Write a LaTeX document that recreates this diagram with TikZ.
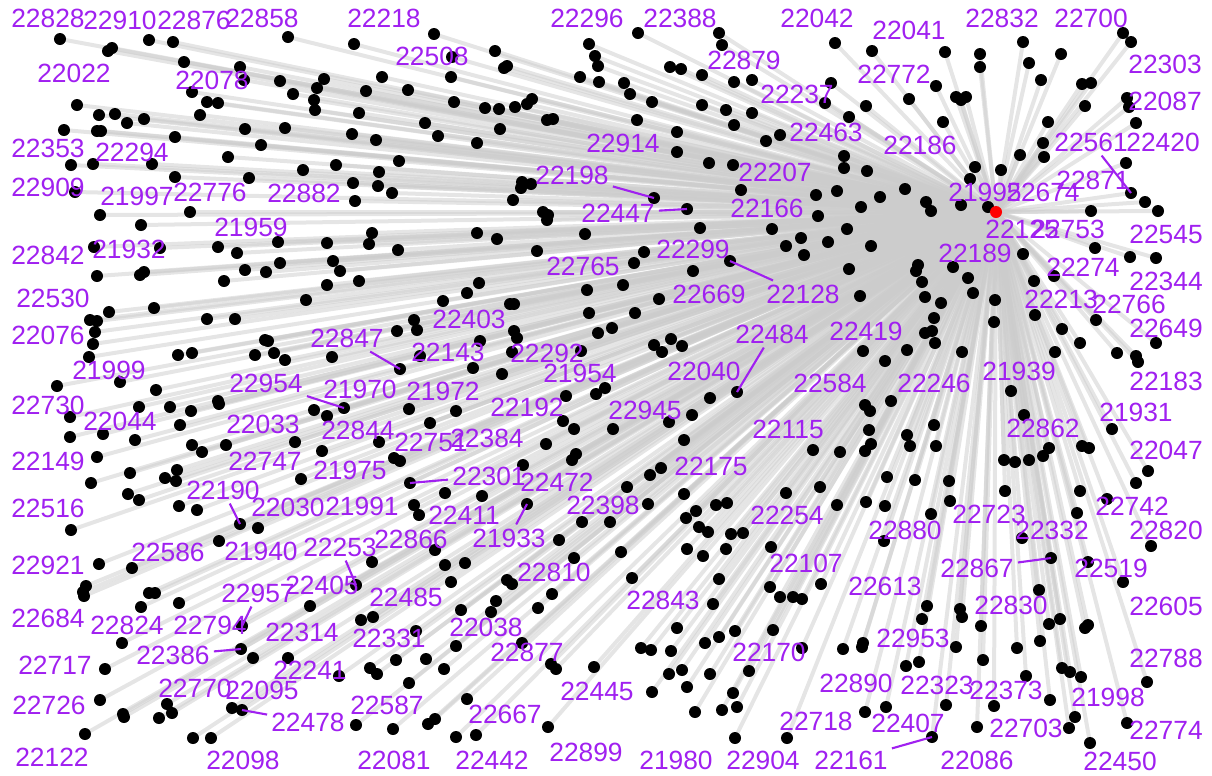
\documentclass[tikz,border=0pt]{standalone}
\usepackage{fontspec}
\setmainfont{Liberation Sans}
\usepackage{xcolor}
\definecolor{idpurple}{RGB}{160,32,240}

\begin{document}
\begin{tikzpicture}[x=0.01cm, y=-0.01cm, font=\fontsize{7.5}{9}\selectfont,
  nodedot/.style={circle, fill=black, inner sep=0pt, minimum size=0.12cm},
  hubdot/.style={circle, fill=red, inner sep=0pt, minimum size=0.12cm},
  spoke/.style={line width=0.04cm, gray!40, opacity=0.5},
  idlabel/.style={text=idpurple, inner sep=1pt},
  leader/.style={idpurple, line width=0.6pt}]
\useasboundingbox (0,0) rectangle (1212,775);
\coordinate (hub) at (996,212);
\def\pts{
  60/39, 108/51, 112/48, 149/40, 173/42, 184/62, 240/67, 244/80, 280/81, 324/79, 317/88, 293/94, 314/100, 315/110,
  192/92, 207/102, 218/103, 200/115, 288/37, 354/44, 382/77, 366/91, 359/113, 352/134, 376/140, 399/161, 379/172,
  378/186, 392/193, 353/183, 355/201, 336/165, 303/170, 249/178, 228/157, 261/145, 285/128, 245/129, 175/137,
  152/164, 175/177, 144/119, 127/123, 115/114, 99/115, 77/105, 64/130, 97/131, 101/131, 71/165, 93/164, 75/192,
  100/215, 141/225, 190/212, 372/233, 369/244, 327/243, 398/250, 278/242, 218/247, 237/253, 94/247, 160/248,
  434/34, 452/57, 495/51, 504/68, 507/66, 451/77, 408/90, 454/102, 485/108, 499/109, 515/107, 527/104, 532/99,
  547/120, 553/119, 500/129, 477/143, 438/136, 425/123, 589/44, 595/56, 598/66, 580/77, 599/82, 624/83, 630/94,
  652/102, 637/120, 638/33, 719/33, 722/45, 670/67, 681/69, 702/75, 734/82, 752/80, 702/105, 726/110, 734/125,
  752/113, 766/141, 780/135, 677/132, 677/152, 709/163, 733/165, 741/190, 654/198, 687/209, 700/228, 772/229,
  801/238, 786/246, 804/255, 522/182, 531/184, 521/188, 513/200, 543/212, 548/215, 547/220, 477/233, 497/239,
  585/234, 644/252, 537/251,
  835/43, 872/51, 945/52, 980/54, 980/67, 1023/42, 1029/63, 1061/54, 1041/80, 1123/33, 1131/42, 1082/84, 1091/83,
  1085/106, 1127/98, 1129/107, 1136/123, 1048/122, 1043/143, 1044/157, 1020/155, 1126/163, 1131/193, 1145/202,
  1158/211, 1091/211, 1001/170, 975/167, 970/179, 988/207, 961/205, 936/86, 909/99, 956/97, 961/100, 966/97,
  943/122, 866/106, 849/117, 831/83, 825/103, 844/156, 844/168, 867/171, 905/189, 880/197, 837/191, 816/195,
  861/207, 926/202, 931/211, 818/216, 847/229, 828/242, 871/246, 1023/254, 1095/248, 1130/257, 1156/258,
  97/276, 140/275, 144/272, 245/270, 266/272, 280/263, 224/281, 333/261, 340/271, 327/285, 359/281, 306/300,
  109/312, 154/308, 90/320, 97/321, 95/332, 93/344, 89/357, 207/319, 235/319, 397/331, 265/340, 268/341, 255/355,
  274/353, 285/360, 332/357, 400/369, 178/355, 192/353, 120/382, 57/386, 156/390, 139/407, 170/407, 191/411,
  218/401, 219/404, 344/408, 314/410, 327/416, 70/417, 70/437, 103/434, 135/440, 180/425, 192/445, 202/452,
  226/445, 295/442, 322/451, 379/442, 394/458, 400/461, 97/457, 130/473, 177/470, 165/478, 176/481, 91/483,
  301/479, 128/494, 139/500, 179/506, 197/510,
  634/263, 730/261, 693/271, 479/283, 467/293, 443/301, 510/304, 514/304, 587/290, 623/285, 659/299, 414/320,
  417/330, 589/313, 635/313, 598/333, 612/328, 514/331, 517/338, 480/341, 512/352, 581/351, 420/356, 473/368,
  502/374, 654/345, 671/339, 662/352, 682/346, 596/394, 605/388, 566/396, 737/392, 710/398, 409/409, 456/411,
  430/423, 563/421, 574/429, 613/429, 669/422, 692/415, 684/440, 546/444, 572/460, 576/454, 523/465, 661/468,
  650/475, 410/483, 445/493, 482/496, 527/504, 414/505, 419/515, 627/487, 684/494, 648/504, 716/505, 727/503,
  696/511, 786/493,
  849/269, 918/265, 916/271, 922/282, 953/267, 968/278, 973/293, 995/300, 994/322, 860/296, 925/297, 941/303,
  934/318, 925/333, 932/331, 935/343, 962/352, 863/351, 885/361, 907/350, 1034/281, 1054/276, 1035/315, 1062/329,
  1096/320, 1080/343, 1055/352, 1117/353, 1136/356, 1138/362, 1156/343, 1011/391, 1024/415, 1112/429, 891/401,
  865/405, 870/411, 869/430, 934/425, 907/435, 910/446, 936/446, 871/444, 865/451, 813/450, 840/452, 1004/460,
  1015/462, 1029/460, 1043/456, 1049/448, 1082/446, 1089/448, 1148/471, 1136/483, 820/487, 887/477, 915/480,
  949/481, 1005/491, 1080/491, 1107/499, 837/505, 866/502, 885/506, 950/501, 931/514, 1077/513,
  71/530, 240/524, 258/528, 219/541, 99/564, 132/568, 86/586, 83/592, 84/596, 149/593, 155/593, 179/603, 141/607,
  372/562, 356/585, 310/606, 361/620, 373/617, 242/626, 122/643, 241/649, 253/658, 288/658, 105/669, 396/660,
  370/668, 377/674, 339/676, 100/700, 123/714, 124/717, 167/704, 172/713, 159/718, 232/708, 242/710, 85/734,
  193/738, 211/738, 356/725, 393/729,
  582/522, 610/522, 686/518, 699/527, 708/532, 731/534, 743/533, 559/540, 435/550, 445/565, 465/563, 451/582,
  574/558, 621/552, 687/549, 703/556, 726/549, 771/547, 632/578, 719/579, 507/580, 512/584, 552/594, 496/601,
  461/610, 491/612, 538/608, 713/604, 770/587, 780/597, 793/597, 802/599, 416/631, 456/646, 522/643, 677/628,
  735/631, 773/630, 719/637, 705/643, 641/648, 651/650, 671/651, 802/648, 426/659, 444/669, 551/664, 556/669,
  594/667, 669/674, 682/670, 710/674, 749/671, 409/683, 652/692, 687/687, 733/693, 467/699, 428/724, 435/719,
  456/737, 476/735, 548/727, 695/712, 722/710, 737/707, 735/738, 787/738,
  884/541, 1022/538, 1051/558, 1088/562, 1123/582, 1151/546, 821/584, 927/606, 922/619, 960/609, 962/617,
  981/626, 1039/590, 1060/619, 1049/624, 1088/625, 1085/628, 843/649, 863/643, 862/647, 956/647, 1017/648,
  1040/641, 906/666, 919/662, 983/660, 1062/668, 1070/672, 1081/677, 1026/676, 1147/682, 1050/700, 994/706,
  946/705, 886/707, 865/712, 1075/717, 1069/728, 977/727, 932/737, 1127/723, 1090/743}
% spokes first, then the points on top
\foreach \x/\y [count=\i] in \pts {
  \coordinate (c\i) at (\x,\y);
  \draw[spoke] (hub) -- (c\i);
}
\foreach \x/\y [count=\i] in \pts {
  \node[nodedot] (d\i) at (c\i) {};
}
\node[hubdot] (h) at (hub) {};
% ids
\foreach \x/\y/\t in {
  48/18/22828, 120/20/22910, 194/20/22876, 262/18/22858, 384/18/22218, 587/18/22296, 680/18/22388, 817/18/22042,
  909/30/22041, 1002/18/22832, 1091/18/22700, 74/73/22022, 212/80/22078, 432/56/22508, 744/60/22879, 894/74/22772,
  1165/64/22303, 797/94/22237, 1165/101/22087, 826/132/22463, 623/143/22914, 920/145/22186, 48/148/22353,
  132/152/22294, 1091/142/22561, 1163/142/22420, 775/172/22207, 572/175/22198, 48/187/22909, 137/196/21997,
  210/192/22776, 304/193/22882, 985/192/21995, 1043/192/22674, 1093/180/22871, 618/213/22447, 767/208/22166,
  251/227/21959, 48/255/22842, 129/249/21932, 1022/229/22125, 1068/229/22753, 1166/234/22545, 975/253/22189,
  583/266/22765, 693/249/22299, 803/294/22128, 709/294/22669, 1083/267/22274, 1166/281/22344, 53/298/22530,
  1061/299/22213, 1129/304/22766, 469/319/22403, 48/335/22076, 347/338/22847, 866/331/22419, 1166/328/22649,
  448/352/22143, 547/353/22292, 772/334/22484, 580/373/21954, 704/371/22040, 109/370/21999, 266/383/22954,
  360/389/21970, 443/391/21972, 830/383/22584, 934/383/22246, 1019/371/21939, 1166/381/22183, 48/405/22730,
  120/421/22044, 527/407/22192, 645/410/22945, 1136/412/21931, 263/424/22033, 358/430/22844, 431/442/22751,
  487/438/22384, 788/429/22115, 1043/428/22862, 48/461/22149, 265/461/22747, 350/470/21975, 711/466/22175,
  1166/450/22047, 489/476/22301, 557/482/22472, 223/490/22190, 48/508/22516, 288/507/22030, 362/506/21991,
  464/515/22411, 603/505/22398, 1132/506/22742, 787/515/22254, 989/514/22723, 905/530/22880, 1052/530/22332,
  1166/530/22820, 509/538/21933, 411/539/22866, 261/551/21940, 340/547/22253, 168/552/22586, 48/565/22921,
  806/563/22107, 554/572/22810, 977/568/22867, 1111/568/22519, 885/586/22613, 322/585/22405, 258/593/22957,
  406/597/22485, 663/600/22843, 1011/605/22830, 1166/606/22605, 48/618/22684, 127/625/22824, 210/625/22794,
  302/632/22314, 486/627/22038, 389/638/22331, 913/638/22953, 173/655/22386, 527/652/22877, 769/652/22170,
  1166/658/22788, 55/665/22717, 310/670/22241, 856/683/22890, 937/685/22323, 1006/690/22373, 1108/697/21998,
  195/688/22770, 262/690/22095, 597/691/22445, 49/705/22726, 308/722/22478, 387/705/22587, 505/714/22667,
  816/721/22718, 908/723/22407, 1026/728/22703, 1166/730/22774, 52/757/22122, 243/760/22098, 394/760/22081,
  492/760/22442, 586/752/22899, 676/760/21980, 763/760/22904, 851/760/22161, 977/760/22086, 1120/761/22450}{
  \node[idlabel] (l\t) at (\x,\y) {\t};
}
% leaders to their points
\foreach \t/\x/\y in {22198/654/198, 22447/687/209, 22128/730/261, 22561/1131/193, 22847/400/369,
  22954/344/408, 22484/737/392, 22301/410/483, 21933/527/504, 22190/240/524, 22253/356/585,
  22957/242/626, 22386/241/649, 22478/242/710, 22867/1051/558, 22161/932/737}{
  \coordinate (t\t) at (\x,\y);
  \draw[leader] (l\t) -- (t\t);
}
\end{tikzpicture}
\end{document}
